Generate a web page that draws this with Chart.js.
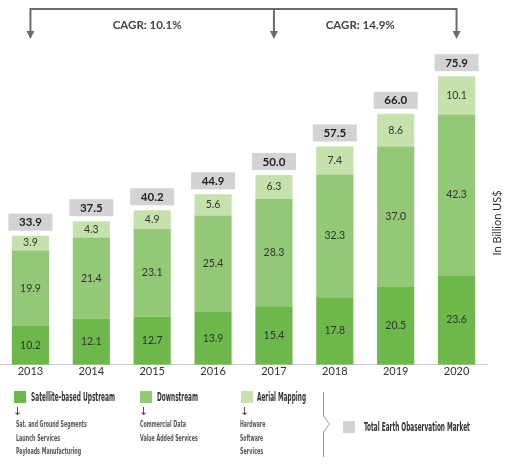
<!DOCTYPE html>
<html>
<head>
<meta charset="utf-8">
<script src="https://cdn.jsdelivr.net/npm/chart.js@4.4.1/dist/chart.umd.min.js"></script>
<style>
  body { margin: 0; background: #fff; }
  #wrap { position: relative; width: 508px; height: 466px; overflow: hidden; }
  #chart { position: absolute; left: 0; top: 0; }
  .lg { position: absolute; font-family: "Liberation Sans Narrow", "DejaVu Sans Condensed", sans-serif; color: #333; white-space: nowrap; transform-origin: left center; line-height: 1; }
  .ttl { font-size: 12px; font-weight: bold; }
  .sub { font-size: 9px; font-weight: bold; color: #555; }
  .arr { font-family: "DejaVu Sans", sans-serif; font-size: 11px; color: #444; }
  .sq { position: absolute; width: 12px; height: 12px; }
</style>
</head>
<body>
<div id="wrap">
  <canvas id="chart" width="508" height="466"></canvas>

  <div class="sq" style="left:14px;top:391px;background:#6cb84a"></div>
  <div class="lg ttl" data-w="84" style="left:31px;top:391px">Satellite-based Upstream</div>
  <div class="lg arr" style="left:13px;top:406px">↓</div>
  <div class="lg sub" data-w="71" style="left:16px;top:420px">Sat. and Ground Segments</div>
  <div class="lg sub" data-w="44" style="left:16px;top:434px">Launch Services</div>
  <div class="lg sub" data-w="65" style="left:16px;top:447px">Payloads Manufacturing</div>

  <div class="sq" style="left:140px;top:391px;background:#93c876"></div>
  <div class="lg ttl" data-w="41" style="left:157px;top:391px">Downstream</div>
  <div class="lg arr" style="left:139px;top:406px">↓</div>
  <div class="lg sub" data-w="46" style="left:140px;top:420px">Commercial Data</div>
  <div class="lg sub" data-w="58" style="left:140px;top:434px">Value Added Services</div>

  <div class="sq" style="left:241px;top:391px;background:#c5e2ad"></div>
  <div class="lg ttl" data-w="49" style="left:257px;top:391px">Aerial Mapping</div>
  <div class="lg arr" style="left:240px;top:406px">↓</div>
  <div class="lg sub" data-w="25" style="left:240px;top:420px">Hardware</div>
  <div class="lg sub" data-w="23" style="left:240px;top:434px">Software</div>
  <div class="lg sub" data-w="23" style="left:240px;top:447px">Services</div>

  <div class="sq" style="left:343px;top:421px;background:#d3d3d3"></div>
  <div class="lg ttl" data-w="106" style="left:364px;top:421px">Total Earth Obaservation Market</div>
</div>

<script>
var years = ['2013', '2014', '2015', '2016', '2017', '2018', '2019', '2020'];
var upstream = [10.2, 12.1, 12.7, 13.9, 15.4, 17.8, 20.5, 23.6];
var downstream = [19.9, 21.4, 23.1, 25.4, 28.3, 32.3, 37.0, 42.3];
var aerial = [3.9, 4.3, 4.9, 5.6, 6.3, 7.4, 8.6, 10.1];
var totals = [33.9, 37.5, 40.2, 44.9, 50.0, 57.5, 66.0, 75.9];

// CAGR brackets: arrows drop onto these years
var cagrArrows = ['2013', '2017', '2020'];
var cagrLabels = ['CAGR: 10.1%', 'CAGR: 14.9%'];

// squeeze the condensed legend text to its width in the picture
document.querySelectorAll('.lg[data-w]').forEach(function(el) {
  var s = +el.dataset.w / el.offsetWidth;
  el.style.transform = 'scaleX(' + s + ')';
});

var extras = {
  id: 'extras',
  afterDatasetsDraw: function(chart) {
    var ctx = chart.ctx;
    var x = chart.scales.x;
    var area = chart.chartArea;

    // values inside the segments
    ctx.save();
    ctx.font = '10.5px Lato';
    ctx.fillStyle = '#333';
    ctx.textAlign = 'center';
    ctx.textBaseline = 'middle';
    chart.data.datasets.forEach(function(ds, di) {
      var meta = chart.getDatasetMeta(di);
      meta.data.forEach(function(el, i) {
        ctx.fillText(ds.data[i].toFixed(1), el.x, (el.y + el.base) / 2);
      });
    });

    // total boxes above each bar
    var top = chart.getDatasetMeta(2);
    ctx.font = 'bold 11.5px Lato';
    top.data.forEach(function(el, i) {
      var by = el.y - 5;
      ctx.fillStyle = '#d3d3d3';
      ctx.fillRect(el.x - 22, by - 17, 44, 17);
      ctx.fillStyle = '#222';
      ctx.fillText(totals[i].toFixed(1), el.x, by - 8);
    });

    // CAGR bracket
    var xs = cagrArrows.map(function(y) { return x.getPixelForValue(years.indexOf(y)); });
    ctx.strokeStyle = '#6b6b6b';
    ctx.fillStyle = '#6b6b6b';
    ctx.lineWidth = 2;
    ctx.beginPath();
    ctx.moveTo(xs[0], 9);
    ctx.lineTo(xs[xs.length - 1], 9);
    ctx.stroke();
    xs.forEach(function(px) {
      ctx.beginPath();
      ctx.moveTo(px, 8);
      ctx.lineTo(px, 32);
      ctx.stroke();
      ctx.beginPath();
      ctx.moveTo(px - 4, 31);
      ctx.lineTo(px + 4, 31);
      ctx.lineTo(px, 39);
      ctx.closePath();
      ctx.fill();
    });
    ctx.fillStyle = '#444';
    ctx.font = 'bold 11.5px Lato';
    cagrLabels.forEach(function(t, i) {
      ctx.fillText(t, (xs[i] + xs[i + 1]) / 2 - 5, 25);
    });

    // unit label on the right
    ctx.save();
    ctx.translate(area.right + 10, 223);
    ctx.rotate(-Math.PI / 2);
    ctx.font = '11px Lato';
    ctx.fillStyle = '#333';
    ctx.fillText('In Billion US$', 0, 0);
    ctx.restore();

    // brace in the legend
    ctx.strokeStyle = '#999';
    ctx.lineWidth = 1;
    ctx.beginPath();
    ctx.moveTo(323.5, 392);
    ctx.lineTo(323.5, 416);
    ctx.lineTo(329.5, 424);
    ctx.lineTo(323.5, 432);
    ctx.lineTo(323.5, 457);
    ctx.stroke();
    ctx.restore();
  }
};

new Chart(document.getElementById('chart'), {
  type: 'bar',
  data: {
    labels: years,
    datasets: [
      { label: 'Satellite-based Upstream', data: upstream, backgroundColor: '#6cb84a' },
      { label: 'Downstream', data: downstream, backgroundColor: '#93c876' },
      { label: 'Aerial Mapping', data: aerial, backgroundColor: '#c5e2ad' }
    ]
  },
  options: {
    responsive: false,
    devicePixelRatio: 1,
    animation: false,
    layout: { padding: { top: 61, right: 21, bottom: 88, left: 0 } },
    datasets: { bar: { categoryPercentage: 1, barPercentage: 0.61 } },
    plugins: { legend: { display: false }, tooltip: { enabled: false } },
    scales: {
      x: {
        stacked: true,
        grid: { display: false, drawTicks: false },
        border: { display: true, color: '#ccc' },
        ticks: { color: '#333', font: { family: 'Lato', size: 11 }, padding: 0 }
      },
      y: {
        stacked: true,
        display: false,
        min: 0,
        max: 80
      }
    }
  },
  plugins: [extras]
});
</script>
</body>
</html>
